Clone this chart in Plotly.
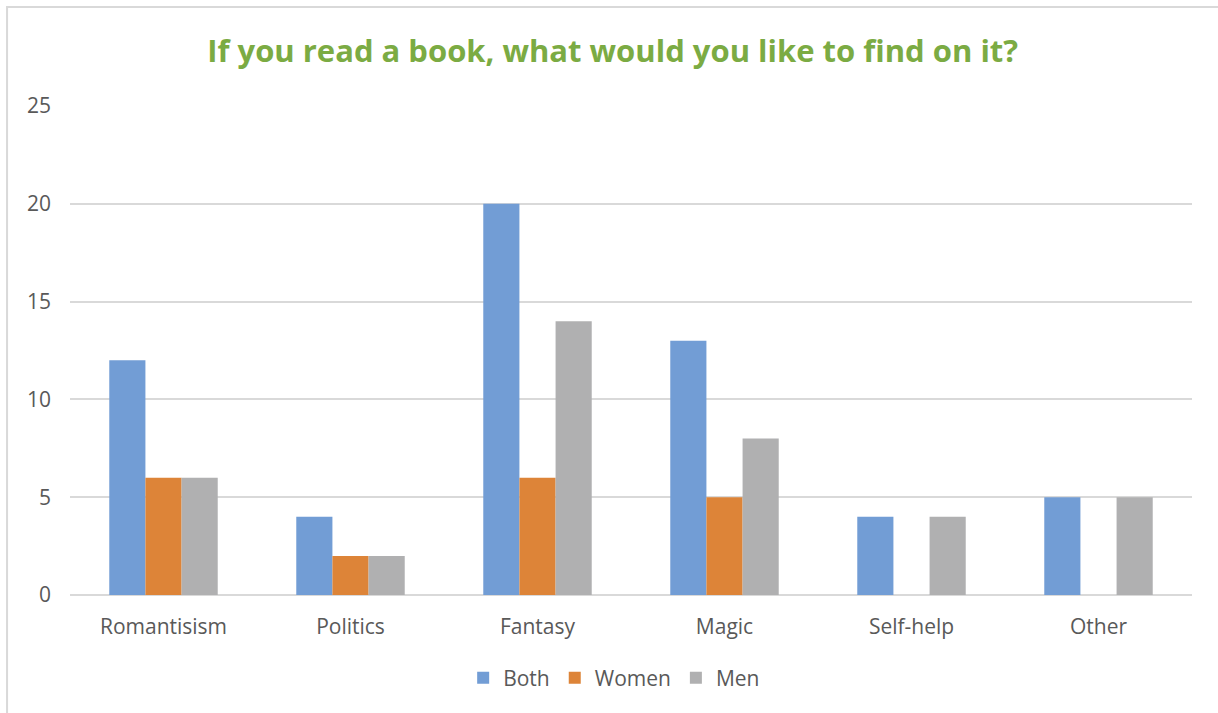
import plotly.graph_objects as go

categories = ["Romantisism", "Politics", "Fantasy", "Magic", "Self-help", "Other"]
both = [12, 4, 20, 13, 4, 5]
women = [6, 2, 6, 5, None, None]
men = [6, 2, 14, 8, 4, 5]
y_ticks = [0, 5, 10, 15, 20, 25]

fig = go.Figure()
for name, vals, col in [("Both", both, "#729dd5"), ("Women", women, "#dd8438"), ("Men", men, "#b0b0b1")]:
    fig.add_trace(go.Bar(name=name, x=categories, y=vals, marker_color=col, marker_line_width=0))

fig.update_layout(
    width=1218, height=713,
    template="none",
    paper_bgcolor="white", plot_bgcolor="white",
    barmode="group", bargap=0.42, bargroupgap=0,
    margin=dict(l=70, r=26, t=106, b=118),
    font=dict(family="Open Sans", color="#595959", size=21),
    title=dict(text="<b>If you read a book, what would you like to find on it?</b>",
               x=0.503, xanchor="center", y=0.928, yanchor="middle",
               font=dict(family="Open Sans", size=31, color="#7bab43")),
    legend=dict(orientation="h", x=0.485, xanchor="center", y=-0.17, yanchor="middle",
                font=dict(size=21, color="#595959"), itemwidth=30, traceorder="normal"),
    xaxis=dict(showgrid=False, showline=False, ticks="", tickfont=dict(size=21, color="#595959"),
               ticklabelstandoff=17),
    yaxis=dict(range=[0, 25], tickvals=y_ticks, showgrid=True, gridcolor="#d9d9d9", gridwidth=2,
               zeroline=True, zerolinecolor="#d9d9d9", zerolinewidth=2, showline=False, ticks="",
               tickfont=dict(size=21, color="#595959"), ticklabelstandoff=18),
    shapes=[dict(type="rect", xref="paper", yref="paper", x0=-0.0561, y0=-0.4, x1=1.1, y1=1.2025,
                 line=dict(color="#d9d9d9", width=2), fillcolor="rgba(0,0,0,0)", layer="below")],
)
fig.write_html("out.html")
